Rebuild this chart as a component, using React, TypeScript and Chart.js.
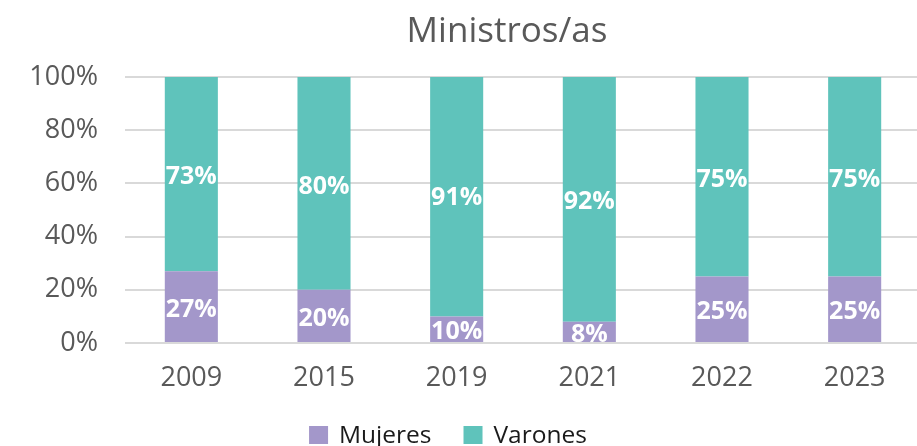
import React, { useEffect, useRef } from "react";
import { Chart, registerables } from "chart.js";

Chart.register(...registerables);

const categories = ["2009", "2015", "2019", "2021", "2022", "2023"];
const mujeres = [27, 20, 10, 8, 25, 25];
const varones = [73, 80, 91, 92, 75, 75];
const seriesNames = ["Mujeres", "Varones"];
const seriesColors = ["#a397ca", "#5fc3bb"];
const titleText = "Ministros/as";
const yTicks = [0, 20, 40, 60, 80, 100];

const FONT = "'Open Sans', 'Noto Sans', sans-serif";

const overlayPlugin = {
  id: "overlay",
  afterDatasetsDraw(chart: any) {
    const ctx = chart.ctx;
    ctx.save();
    ctx.font = `bold 25px ${FONT}`;
    ctx.fillStyle = "#ffffff";
    ctx.textAlign = "center";
    ctx.textBaseline = "middle";
    chart.data.datasets.forEach((ds: any, di: number) => {
      const meta = chart.getDatasetMeta(di);
      meta.data.forEach((el: any, i: number) => {
        const y = (el.y + el.base) / 2;
        ctx.fillText(`${ds.data[i]}%`, el.x, y + 3);
      });
    });
    ctx.restore();
  },
  afterDraw(chart: any) {
    const ctx = chart.ctx;
    ctx.save();
    ctx.font = `35px ${FONT}`;
    ctx.fillStyle = "#595959";
    ctx.textAlign = "center";
    ctx.textBaseline = "alphabetic";
    ctx.fillText(titleText, 507, 42);
    ctx.font = `24.5px ${FONT}`;
    ctx.textAlign = "left";
    ctx.textBaseline = "middle";
    const box = 18;
    const gap = 12;
    const itemGap = 32;
    const widths = seriesNames.map((n) => box + gap + ctx.measureText(n).width);
    const total = widths.reduce((a, b) => a + b, 0) + itemGap * (seriesNames.length - 1);
    let x = 448 - total / 2;
    const yMid = 435;
    seriesNames.forEach((n, i) => {
      ctx.fillStyle = seriesColors[i];
      ctx.fillRect(x, yMid - box / 2, box + 1, box);
      ctx.fillStyle = "#1a1a1a";
      ctx.fillText(n, x + box + gap, yMid + 1);
      x += widths[i] + itemGap;
    });
    ctx.restore();
  },
};

export default function App() {
  const ref = useRef<HTMLCanvasElement>(null);
  useEffect(() => {
    if (!ref.current) return;
    const chart = new Chart(ref.current, {
      type: "bar",
      data: {
        labels: categories,
        datasets: [
          { label: seriesNames[0], data: mujeres, backgroundColor: seriesColors[0] },
          { label: seriesNames[1], data: varones, backgroundColor: seriesColors[1] },
        ],
      },
      options: {
        responsive: false,
        animation: false,
        layout: { padding: { top: 77, bottom: 0, left: 0, right: 0 } },
        plugins: {
          legend: { display: false },
          title: { display: false },
          tooltip: { enabled: false },
        },
        datasets: { bar: { categoryPercentage: 1, barPercentage: 0.4 } },
        scales: {
          x: {
            stacked: true,
            grid: { display: false, drawTicks: false },
            border: { display: false },
            ticks: { color: "#595959", font: { family: FONT, size: 27 }, padding: 19 },
            afterFit: (s: any) => { s.height = 103; },
          },
          y: {
            stacked: true,
            min: 0,
            max: 100,
            afterBuildTicks: (s: any) => { s.ticks = yTicks.map((v) => ({ value: v })); },
            grid: { color: "#d9d9d9", lineWidth: 2, drawTicks: false },
            border: { display: false },
            ticks: {
              color: "#595959",
              font: { family: FONT, size: 27 },
              padding: 27,
              callback: (v: any) => `${v}%`,
            },
            afterFit: (s: any) => { s.width = 125; },
          },
        },
      },
      plugins: [overlayPlugin],
    });
    return () => chart.destroy();
  }, []);
  return (
    <div style={{ position: "fixed", left: 0, top: 0, width: 917, height: 446, overflow: "hidden", background: "#fff" }}>
      <canvas ref={ref} width={921} height={446} style={{ display: "block", width: 921, height: 446 }} />
    </div>
  );
}
